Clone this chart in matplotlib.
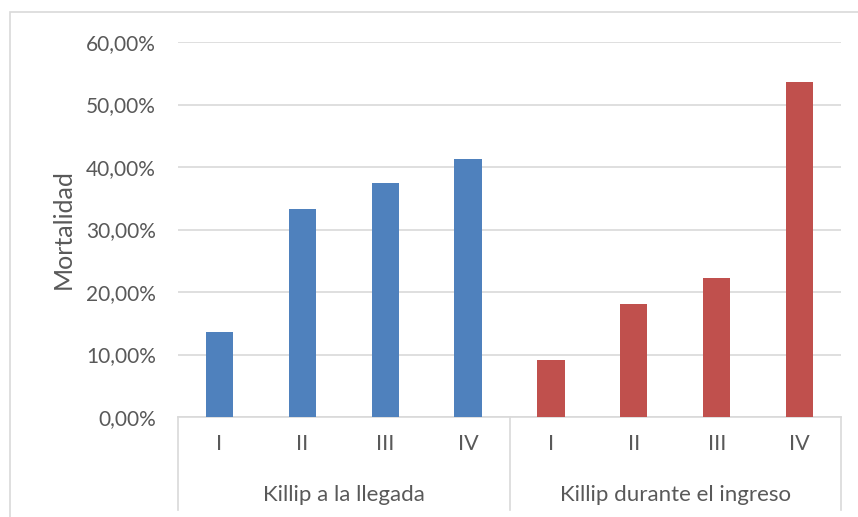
import matplotlib.pyplot as plt
from matplotlib.patches import Rectangle
from matplotlib.ticker import FuncFormatter

groups = ['Killip a la llegada', 'Killip durante el ingreso']
classes = ['I', 'II', 'III', 'IV']
llegada = [0.136, 0.333, 0.374, 0.413]
ingreso = [0.091, 0.181, 0.222, 0.536]

blue = '#4F81BD'
red = '#C0504D'
grey_text = '#595959'
grid_col = '#D9D9D9'

plt.rcParams['font.family'] = ['Lato', 'DejaVu Sans']

fig = plt.figure(figsize=(8.58, 5.17), dpi=100)
# chart border like excel
fig.patches.append(Rectangle((10 / 858, -0.1), 1.2, 1 - 12 / 517 + 0.1,
                             transform=fig.transFigure, fill=False,
                             edgecolor=grid_col, linewidth=1.2))
ax = fig.add_axes([178 / 858, 1 - 417 / 517, (841 - 178) / 858, (417 - 42) / 517])

n = len(classes)
x1 = list(range(n))
x2 = [i + n for i in range(n)]
ax.bar(x1, llegada, width=0.33, color=blue, zorder=3)
ax.bar(x2, ingreso, width=0.33, color=red, zorder=3)

ax.set_xlim(-0.5, 2 * n - 0.5)
ax.set_ylim(0, 0.6)
ax.set_yticks([0, 0.1, 0.2, 0.3, 0.4, 0.5, 0.6])
ax.yaxis.set_major_formatter(FuncFormatter(lambda v, p: f'{v * 100:.2f}%'.replace('.', ',')))
ax.grid(axis='y', color=grid_col, linewidth=1.2, zorder=0)

ax.set_xticks(x1 + x2)
ax.set_xticklabels(classes + classes)
ax.tick_params(axis='x', length=0, pad=12, labelsize=15.5, labelcolor=grey_text)
ax.tick_params(axis='y', length=0, pad=16, labelsize=15, labelcolor=grey_text)

for s in ['top', 'right', 'left']:
    ax.spines[s].set_visible(False)
ax.spines['bottom'].set_color(grid_col)
ax.spines['bottom'].set_linewidth(1.2)

# multi-level category separators
trans = ax.get_xaxis_transform()
for xs in [-0.5, n - 0.5, 2 * n - 0.5]:
    ax.plot([xs, xs], [0, -0.248], color=grid_col, linewidth=1.2,
            transform=trans, clip_on=False)
for g, xs in zip(groups, [x1, x2]):
    ax.text(sum(xs) / n, -0.207, g, transform=trans, ha='center', va='center',
            fontsize=16, color=grey_text)

ax.set_ylabel('Mortalidad', fontsize=18, color=grey_text, labelpad=8)

fig.savefig('out.png', dpi=100, facecolor='white')
